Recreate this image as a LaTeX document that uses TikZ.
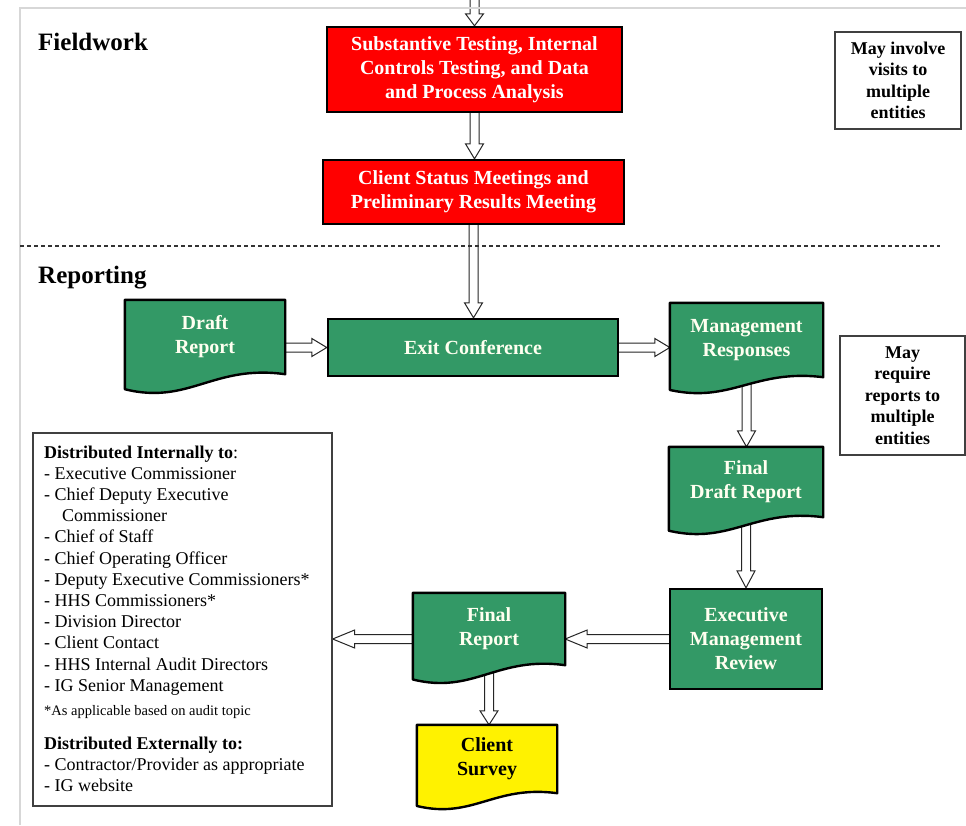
\documentclass[tikz,border=0pt]{standalone}
\usepackage{fontspec}
\setmainfont{Liberation Serif}
\usetikzlibrary{calc}
\pgfdeclarelayer{paper}
\pgfdeclarelayer{bg}
\pgfdeclarelayer{docs}
\pgfsetlayers{paper,bg,docs,main}
\definecolor{grn}{RGB}{51,153,102}
\definecolor{framegray}{RGB}{215,215,215}
\definecolor{cream}{RGB}{255,255,240}
\tikzset{
  flowbox/.style={rectangle, draw=black, line width=2.4pt, text=cream, font=\bfseries\fontsize{20}{24}\selectfont, align=center, inner sep=0pt},
  redbox/.style={flowbox, fill=red, text=white},
  grnbox/.style={flowbox, fill=grn},
  docbox/.style={rectangle, draw=none, text=cream, font=\bfseries\fontsize{20}{24}\selectfont, align=center, inner sep=0pt},
  notebox/.style={rectangle, draw=black!75, line width=1.3pt, font=\bfseries\fontsize{18}{21.5}\selectfont, align=center, inner sep=0pt},
  infobox/.style={rectangle, draw=black!75, line width=1.3pt, inner sep=0pt},
  heading/.style={anchor=base west, font=\bfseries\fontsize{25}{30}\selectfont, inner sep=0pt},
  listtxt/.style={anchor=base west, font=\fontsize{18}{21}\selectfont, inner sep=0pt},
  foottxt/.style={anchor=base west, font=\fontsize{14.5}{17}\selectfont, inner sep=0pt},
  blk/.style={draw=black!85, line width=1pt, line join=miter},
  docline/.style={draw=black, line width=2.4pt, line join=round},
  sepline/.style={draw=black!80, line width=1.2pt, dash pattern=on 4pt off 3pt},
}
% block arrows
\newcommand{\blkdown}[3]{\begin{pgfonlayer}{bg}\draw[blk] let \p1=(#1), \p2=(#2) in
  (\x1-4.5,\y1) -- (\x1-4.5,\y2+#3) -- (\x1-9,\y2+#3) -- (\x1,\y2) -- (\x1+9,\y2+#3) -- (\x1+4.5,\y2+#3) -- (\x1+4.5,\y1);\end{pgfonlayer}}
\newcommand{\blkright}[3]{\begin{pgfonlayer}{bg}\draw[blk] let \p1=(#1), \p2=(#2) in
  (\x1,\y1+4.5) -- (\x2-#3,\y1+4.5) -- (\x2-#3,\y1+9) -- (\x2,\y1) -- (\x2-#3,\y1-9) -- (\x2-#3,\y1-4.5) -- (\x1,\y1-4.5);\end{pgfonlayer}}
\newcommand{\blkleft}[3]{\begin{pgfonlayer}{bg}\draw[blk] let \p1=(#1), \p2=(#2) in
  (\x1,\y1+4.5) -- (\x2+#3,\y1+4.5) -- (\x2+#3,\y1+9) -- (\x2,\y1) -- (\x2+#3,\y1-9) -- (\x2+#3,\y1-4.5) -- (\x1,\y1-4.5);\end{pgfonlayer}}
% document shape with wavy bottom
\newcommand{\docwave}[3]{\begin{pgfonlayer}{docs}\draw[docline, fill=#2] let \p1=(#1.south west), \p2=(#1.north east), \n1={\x2-\x1} in
  (\x1,\y2) -- (\x2,\y2) -- (\x2,\y1) .. controls (\x2-0.45*\n1,\y1+0.5*#3) and (\x1+0.4*\n1,\y1-1.55*#3) .. (\x1,\y1-0.75*#3) -- cycle;\end{pgfonlayer}}

\begin{document}
\begin{tikzpicture}[x=1pt,y=-1pt]
\useasboundingbox (0,0) rectangle (966,825);
\begin{pgfonlayer}{paper}
\fill[white] (0,0) rectangle (966,825);
\end{pgfonlayer}
% frame
\draw[framegray, line width=2pt] (20,825) -- (20,8) -- (966,8);

% headings
\node[heading] (fw) at (38,50) {Fieldwork};
\node[heading] (rep) at (38,283) {Reporting};

% separator
\draw[sepline] (20,246) -- (940,246);

% fieldwork nodes
\node[redbox, minimum width=295pt, minimum height=85pt] (red1) at (474.5,69.5)
  {Substantive Testing, Internal\\Controls Testing, and Data\\and Process Analysis};
\node[redbox, minimum width=301pt, minimum height=64pt] (red2) at (473.5,192)
  {Client Status Meetings and\\Preliminary Results Meeting};
\node[notebox, minimum width=126pt, minimum height=97pt] (note1) at (898,80.5)
  {May involve\\visits to\\multiple\\entities};

% reporting nodes
\node[grnbox, minimum width=290pt, minimum height=57pt] (exit) at (473,347.5) {Exit Conference};
\node[docbox, minimum width=160pt, minimum height=74pt] (draft) at (205,337) {Draft\\Report};
\node[docbox, minimum width=153pt, minimum height=74pt] (mgmt) at (746.5,340) {Management\\Responses};
\node[notebox, minimum width=125pt, minimum height=119pt] (note2) at (902.5,395.5)
  {May\\require\\reports to\\multiple\\entities};
\node[docbox, minimum width=154pt, minimum height=70pt] (fdraft) at (746,482) {Final\\Draft Report};
\node[grnbox, minimum width=152pt, minimum height=100pt] (emr) at (746,639) {Executive\\Management\\Review};
\node[docbox, minimum width=152pt, minimum height=72pt] (final) at (489,629) {Final\\Report};
\node[docbox, minimum width=140pt, minimum height=68pt, text=black] (survey) at (487,759) {Client\\Survey};

\docwave{draft}{grn}{20}
\docwave{mgmt}{grn}{17}
\docwave{fdraft}{grn}{18}
\docwave{final}{grn}{19}
\docwave{survey}{yellow}{17}

% distribution box
\node[infobox, minimum width=299pt, minimum height=373pt] (dist) at (182.5,619.5) {};
\foreach \t [count=\i from 0] in {
  {{\bfseries Distributed Internally to}:},
  {- Executive Commissioner},
  {- Chief Deputy Executive},
  {\hspace*{18pt}Commissioner},
  {- Chief of Staff},
  {- Chief Operating Officer},
  {- Deputy Executive Commissioners*},
  {- HHS Commissioners*},
  {- Division Director},
  {- Client Contact},
  {- HHS Internal Audit Directors},
  {- IG Senior Management}}
  \node[listtxt] (li\i) at (44,458+21.2*\i) {\t};
\node[foottxt] (foot) at (44,715) {*As applicable based on audit topic};
\node[listtxt] (ext0) at (44,749) {\bfseries Distributed Externally to:};
\node[listtxt] (ext1) at (44,770) {- Contractor/Provider as appropriate};
\node[listtxt] (ext2) at (44,791) {- IG website};

% connectors
\coordinate (topin) at (474.5,-2);
\blkdown{topin}{red1.north}{12}
\blkdown{red1.south}{red2.north}{15}
\blkdown{red2.south}{exit.north}{15}
\blkright{draft.east |- exit.west}{exit.west}{15}
\blkright{exit.east}{mgmt.west |- exit.east}{15}
\blkdown{mgmt.south}{fdraft.north}{16}
\blkdown{fdraft.south}{emr.north}{17}
\blkleft{emr.west}{final.east |- emr.west}{22}
\blkleft{final.west |- emr.west}{dist.east |- emr.west}{22}
\blkdown{final.south}{survey.north}{14}
\end{tikzpicture}
\end{document}
